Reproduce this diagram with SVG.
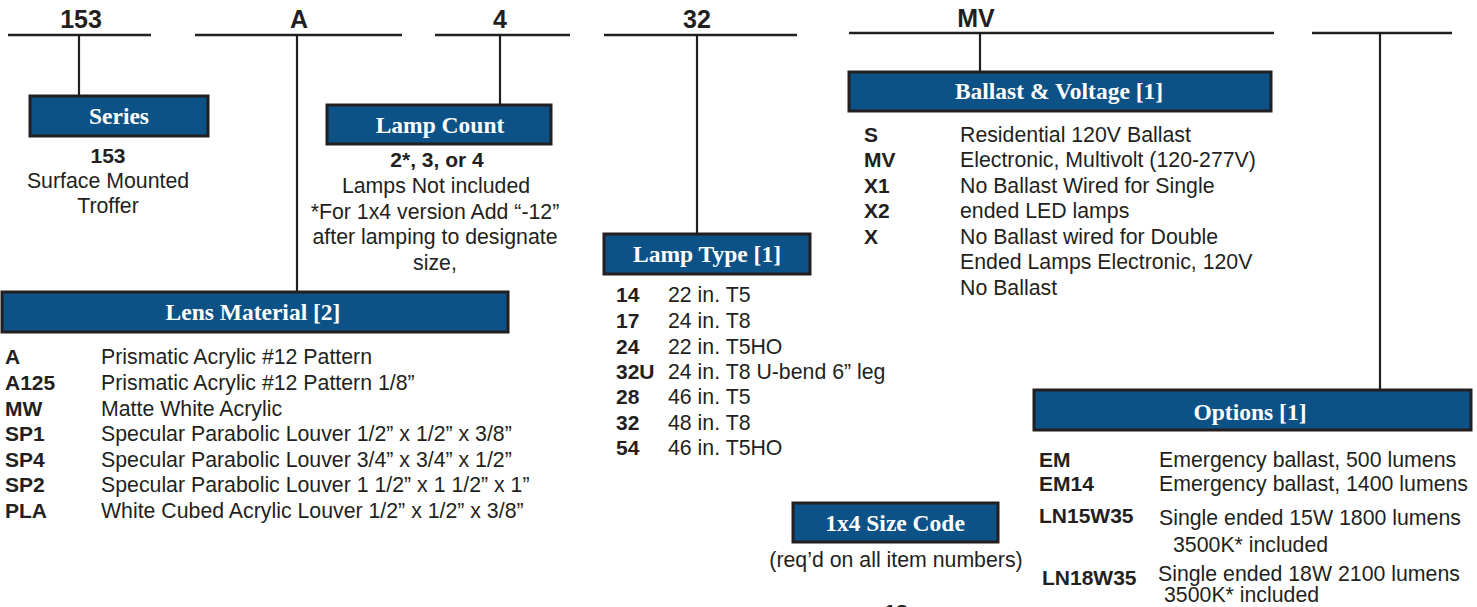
<svg xmlns="http://www.w3.org/2000/svg" width="1477" height="607" viewBox="0 0 1477 607">
<style>
.bg{fill:#ffffff}
.rule{stroke:#231f20;stroke-width:2.6;fill:none}
.conn{stroke:#231f20;stroke-width:2.2;fill:none}
.box{fill:#0c5286;stroke:#231f20;stroke-width:3}
.head{font-family:"Liberation Serif","Times New Roman",serif;font-weight:bold;font-size:23.5px;fill:#ffffff;text-anchor:middle}
.code{font-family:"Liberation Sans",Arial,sans-serif;font-weight:bold;font-size:25px;fill:#231f20;text-anchor:middle}
.t{font-family:"Liberation Sans",Arial,sans-serif;font-size:21.3px;fill:#231f20}
.b{font-family:"Liberation Sans",Arial,sans-serif;font-size:21px;font-weight:bold;fill:#231f20}
.c{text-anchor:middle}
</style>
<rect class="bg" x="0" y="0" width="1477" height="607"/>

<g id="connectors">
<line class="conn" x1="79" y1="35" x2="79" y2="96"/>
<line class="conn" x1="297" y1="35" x2="297" y2="292"/>
<line class="conn" x1="500" y1="35" x2="500" y2="105"/>
<line class="conn" x1="697" y1="35" x2="697" y2="234"/>
<line class="conn" x1="980" y1="33" x2="980" y2="72"/>
<line class="conn" x1="1380" y1="33" x2="1380" y2="390"/>
</g>

<g id="code-153">
<line class="rule" x1="8" y1="35" x2="151" y2="35"/>
<text class="code" x="81" y="28">153</text>
</g>
<g id="code-A">
<line class="rule" x1="195" y1="35" x2="402" y2="35"/>
<text class="code" x="299" y="28">A</text>
</g>
<g id="code-4">
<line class="rule" x1="435" y1="35" x2="570" y2="35"/>
<text class="code" x="500" y="28">4</text>
</g>
<g id="code-32">
<line class="rule" x1="604" y1="35" x2="797" y2="35"/>
<text class="code" x="697" y="28">32</text>
</g>
<g id="code-MV">
<line class="rule" x1="849" y1="33" x2="1274" y2="33"/>
<text class="code" x="976" y="27">MV</text>
</g>
<g id="code-options">
<line class="rule" x1="1312" y1="33" x2="1452" y2="33"/>
</g>

<g id="series">
<rect class="box" x="30" y="96" width="178" height="40"/>
<text class="head" x="119" y="124">Series</text>
<text class="b c" x="108" y="163">153</text>
<text class="t c" x="108" y="188">Surface Mounted</text>
<text class="t c" x="108" y="213">Troffer</text>
</g>

<g id="lamp-count">
<rect class="box" x="327" y="105" width="224" height="39"/>
<text class="head" x="440" y="133">Lamp Count</text>
<text class="b c" x="437" y="167">2*, 3, or 4</text>
<text class="t c" x="436" y="193">Lamps Not included</text>
<text class="t c" x="435" y="219">*For 1x4 version Add “-12”</text>
<text class="t c" x="435" y="244">after lamping to designate</text>
<text class="t c" x="435" y="270">size,</text>
</g>

<g id="lens-material">
<rect class="box" x="2" y="292" width="506" height="40"/>
<text class="head" x="253" y="320">Lens Material [2]</text>
<text class="b" x="5" y="364">A</text><text class="t" x="101" y="364">Prismatic Acrylic #12 Pattern</text>
<text class="b" x="5" y="390">A125</text><text class="t" x="101" y="390">Prismatic Acrylic #12 Pattern 1/8”</text>
<text class="b" x="5" y="416">MW</text><text class="t" x="101" y="416">Matte White Acrylic</text>
<text class="b" x="5" y="441">SP1</text><text class="t" x="101" y="441">Specular Parabolic Louver 1/2” x 1/2” x 3/8”</text>
<text class="b" x="5" y="467">SP4</text><text class="t" x="101" y="467">Specular Parabolic Louver 3/4” x 3/4” x 1/2”</text>
<text class="b" x="5" y="492">SP2</text><text class="t" x="101" y="492">Specular Parabolic Louver 1 1/2” x 1 1/2” x 1”</text>
<text class="b" x="5" y="518">PLA</text><text class="t" x="101" y="518">White Cubed Acrylic Louver 1/2” x 1/2” x 3/8”</text>
</g>

<g id="lamp-type">
<rect class="box" x="604" y="234" width="206" height="40"/>
<text class="head" x="707" y="262">Lamp Type [1]</text>
<text class="b" x="616" y="302">14</text><text class="t" x="668" y="302">22 in. T5</text>
<text class="b" x="616" y="328">17</text><text class="t" x="668" y="328">24 in. T8</text>
<text class="b" x="616" y="354">24</text><text class="t" x="668" y="354">22 in. T5HO</text>
<text class="b" x="616" y="379">32U</text><text class="t" x="668" y="379">24 in. T8 U-bend 6” leg</text>
<text class="b" x="616" y="404">28</text><text class="t" x="668" y="404">46 in. T5</text>
<text class="b" x="616" y="430">32</text><text class="t" x="668" y="430">48 in. T8</text>
<text class="b" x="616" y="455">54</text><text class="t" x="668" y="455">46 in. T5HO</text>
</g>

<g id="ballast-voltage">
<rect class="box" x="849" y="72" width="422" height="39"/>
<text class="head" x="1059" y="99">Ballast &amp; Voltage [1]</text>
<text class="b" x="864" y="142">S</text><text class="t" x="960" y="142">Residential 120V Ballast</text>
<text class="b" x="864" y="167">MV</text><text class="t" x="960" y="167">Electronic, Multivolt (120-277V)</text>
<text class="b" x="864" y="193">X1</text><text class="t" x="960" y="193">No Ballast Wired for Single</text>
<text class="b" x="864" y="218">X2</text><text class="t" x="960" y="218">ended LED lamps</text>
<text class="b" x="864" y="244">X</text><text class="t" x="960" y="244">No Ballast wired for Double</text>
<text class="t" x="960" y="269">Ended Lamps Electronic, 120V</text>
<text class="t" x="960" y="295">No Ballast</text>
</g>

<g id="options">
<rect class="box" x="1034" y="390" width="437" height="40"/>
<text class="head" x="1250" y="420">Options [1]</text>
<text class="b" x="1039" y="467">EM</text><text class="t" x="1159" y="467">Emergency ballast, 500 lumens</text>
<text class="b" x="1039" y="491">EM14</text><text class="t" x="1159" y="491">Emergency ballast, 1400 lumens</text>
<text class="b" x="1039" y="523">LN15W35</text><text class="t" x="1159" y="525">Single ended 15W 1800 lumens</text>
<text class="t" x="1173" y="552">3500K* included</text>
<text class="b" x="1042" y="585">LN18W35</text><text class="t" x="1158" y="581">Single ended 18W 2100 lumens</text>
<text class="t" x="1164" y="602">3500K* included</text>
</g>

<g id="size-code">
<rect class="box" x="793" y="503" width="205" height="39"/>
<text class="head" x="895" y="531">1x4 Size Code</text>
<text class="t c" x="896" y="567">(req’d on all item numbers)</text>
</g>

<g id="page-number">
<text class="b c" x="896" y="619">18</text>
</g>
</svg>
